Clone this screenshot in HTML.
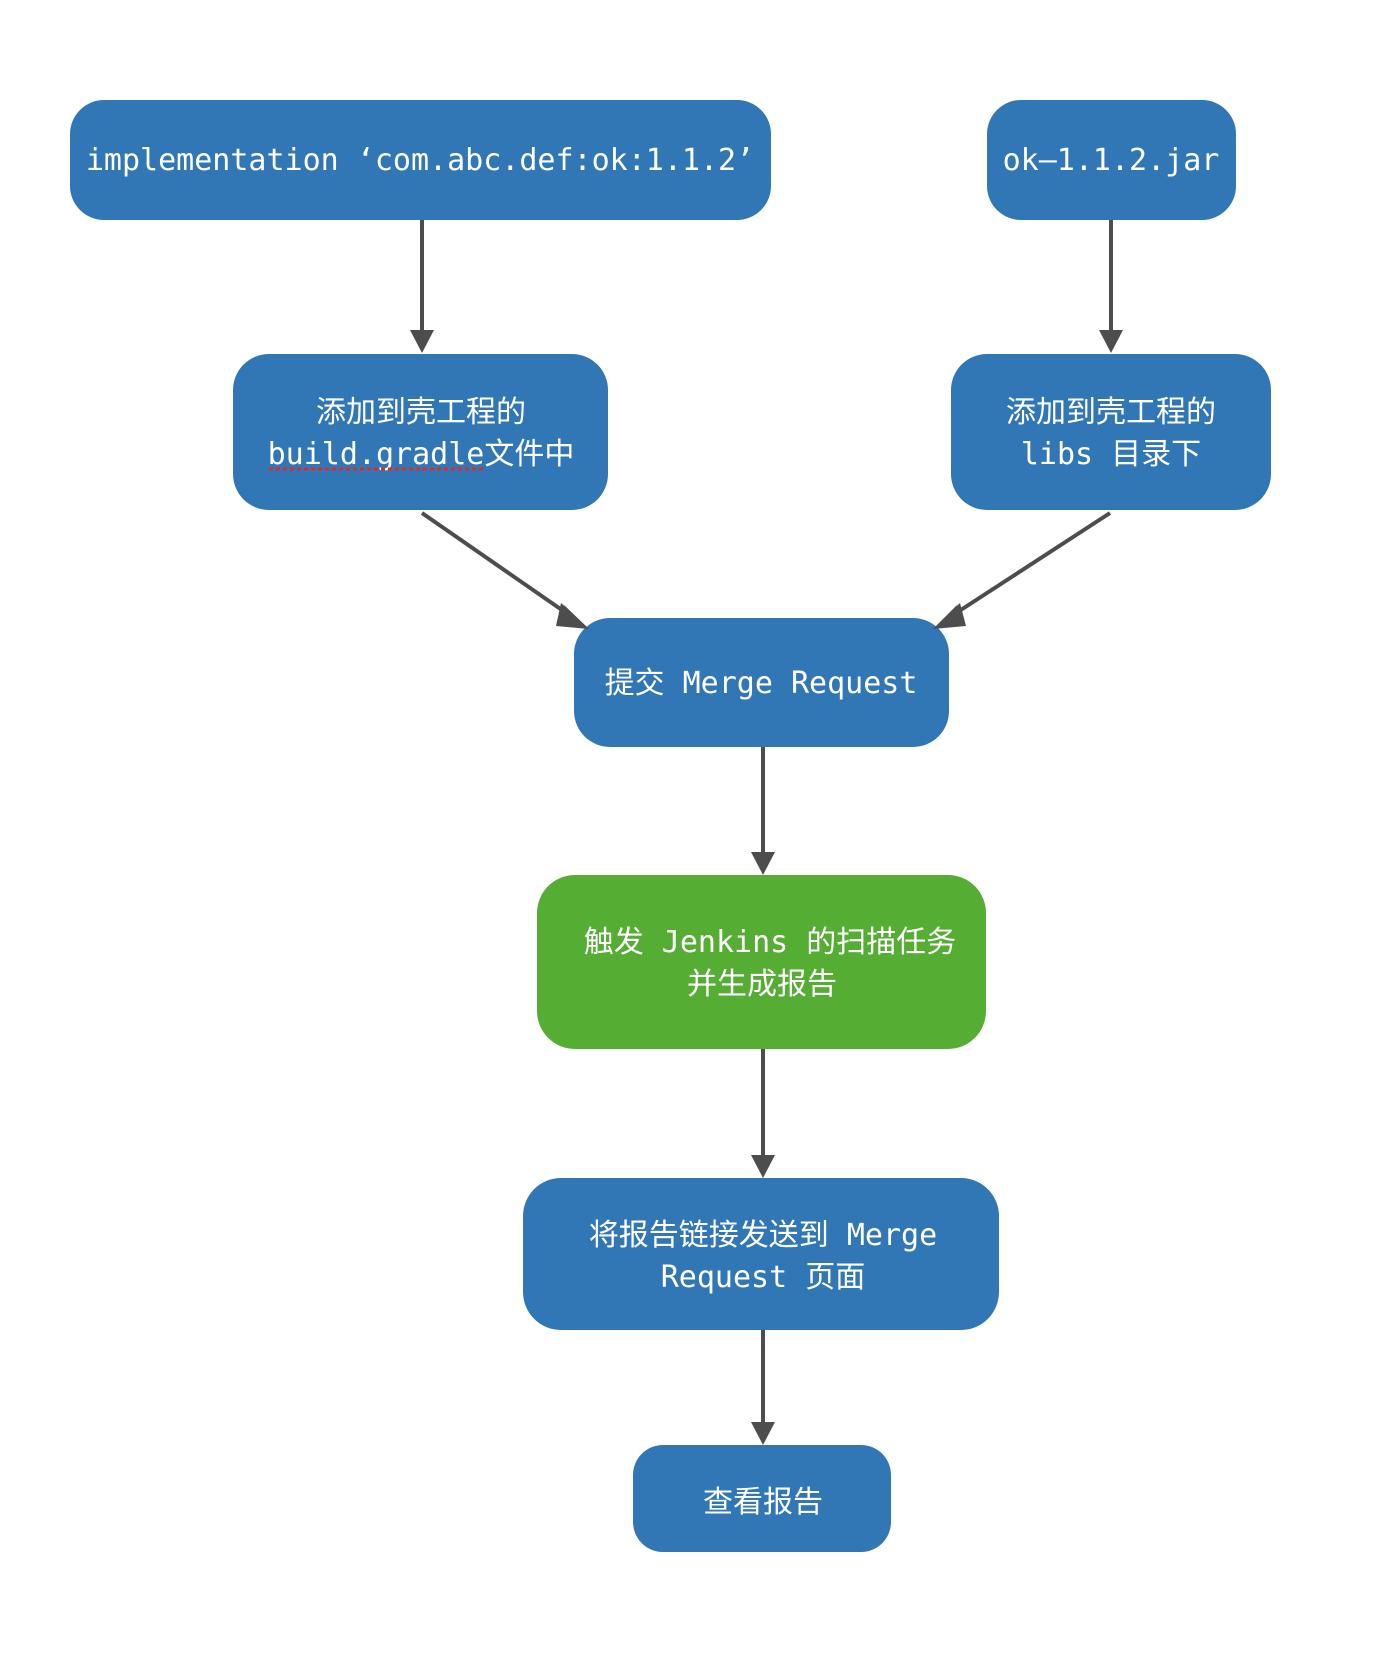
<!DOCTYPE html>
<html><head><meta charset="utf-8"><style>
html,body{margin:0;padding:0;background:#fff;}
svg text{font-family:"DejaVu Sans Mono","Liberation Mono","Noto Sans CJK SC",monospace;font-size:30px;fill:#fff;text-anchor:middle;}
</style></head><body>
<svg width="1386" height="1662" viewBox="0 0 1386 1662" xmlns="http://www.w3.org/2000/svg">
<defs><marker id="a" markerWidth="8" markerHeight="8" refX="6" refY="4" orient="auto" markerUnits="userSpaceOnUse" viewBox="0 0 8 8"><path d="M0,0 L8,4 L0,8 z" fill="#4d4d4d"/></marker></defs>
<g fill="#3277b5">
<rect x="70" y="100" width="701" height="120" rx="34"/>
<rect x="987" y="100" width="249" height="120" rx="34"/>
<rect x="233" y="354" width="375" height="156" rx="36"/>
<rect x="951" y="354" width="320" height="156" rx="36"/>
<rect x="574" y="618" width="375" height="129" rx="36"/>
<rect x="537" y="875" width="449" height="174" rx="38" fill="#55ad33"/>
<rect x="523" y="1178" width="476" height="152" rx="38"/>
<rect x="633" y="1445" width="258" height="107" rx="30"/>
</g>
<g stroke="#4d4d4d" stroke-width="4" fill="#4d4d4d">
<line x1="422" y1="220" x2="422" y2="330"/><path d="M410,330 L434,330 L422,353 z" stroke="none"/>
<line x1="1111" y1="220" x2="1111" y2="330"/><path d="M1099,330 L1123,330 L1111,353 z" stroke="none"/>
<line x1="763" y1="747" x2="763" y2="852"/><path d="M751,852 L775,852 L763,875 z" stroke="none"/>
<line x1="763" y1="1049" x2="763" y2="1155"/><path d="M751,1155 L775,1155 L763,1178 z" stroke="none"/>
<line x1="763" y1="1330" x2="763" y2="1422"/><path d="M751,1422 L775,1422 L763,1445 z" stroke="none"/>
<line x1="422" y1="513" x2="572" y2="617"/><path d="M563,604 L577,624 L588,628 Z" stroke="none"/>
<line x1="1110" y1="513" x2="950" y2="617"/><path d="M958,604 L945,624 L934,628 Z" stroke="none"/>
</g>
<path d="M561,603 L589,629 L556,626 Z" fill="#4d4d4d"/>
<path d="M960,603 L933,629 L966,626 Z" fill="#4d4d4d"/>
<text x="420" y="170">implementation ‘com.abc.def:ok:1.1.2’</text>
<text x="1111" y="170">ok–1.1.2.jar</text>
<text x="421" y="422">添加到壳工程的</text>
<text x="421" y="464">build.gradle文件中</text>
<line x1="269" y1="469" x2="485" y2="469" stroke="#e02a2a" stroke-width="3" stroke-dasharray="4,3"/>
<text x="1111" y="422">添加到壳工程的</text>
<text x="1111" y="464">libs 目录下</text>
<text x="761" y="693">提交 Merge Request</text>
<text x="770" y="952">触发 Jenkins 的扫描任务</text>
<text x="762" y="994">并生成报告</text>
<text x="763" y="1245">将报告链接发送到 Merge</text>
<text x="763" y="1287">Request 页面</text>
<text x="763" y="1512">查看报告</text>
</svg>
</body></html>
